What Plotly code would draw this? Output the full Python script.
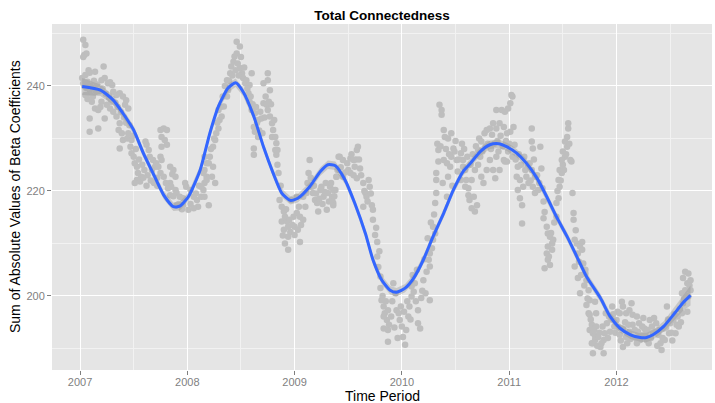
import plotly.graph_objects as go

# ---------------- data ----------------
# observed points: [decimal year, value]
obs_2007 = [[2007.03,248.8],[2007.05,247.8],[2007.04,245.9],[2007.06,246.2],[2007.03,245.5],[2007.08,243.0],[2007.05,242.1],[2007.09,242.5],[2007.14,242.7],[2007.22,243.7],[2007.03,240.5],[2007.06,239.6],[2007.09,238.6],[2007.05,238.3],[2007.12,238.0],[2007.15,238.9],[2007.20,241.1],[2007.23,241.5],[2007.26,240.5],[2007.28,240.7],[2007.30,240.2],[2007.31,238.9],[2007.20,237.0],[2007.25,236.4],[2007.28,235.7],[2007.31,235.1],[2007.14,235.7],[2007.17,235.4],[2007.09,233.8],[2007.23,233.8],[2007.17,231.9],[2007.09,231.3],[2007.34,238.3],[2007.37,238.6],[2007.40,238.0],[2007.43,237.3],[2007.42,236.4],[2007.45,235.7],[2007.34,234.2],[2007.37,232.9],[2007.36,231.6],[2007.39,231.0],[2007.40,229.7],[2007.37,228.1],[2007.45,231.0],[2007.48,229.7],[2007.47,228.4],[2007.48,227.2],[2007.50,226.5],[2007.51,225.3],[2007.53,224.6],[2007.54,223.4],[2007.53,222.1],[2007.51,221.5],[2007.56,221.8],[2007.57,222.7],[2007.61,229.4],[2007.62,228.8],[2007.64,227.8],[2007.65,226.5],[2007.68,225.9],[2007.70,224.6],[2007.71,225.3],[2007.67,224.0],[2007.75,231.6],[2007.78,231.9],[2007.81,231.6],[2007.76,230.3],[2007.79,229.7],[2007.81,228.8],[2007.76,228.4],[2007.75,226.5],[2007.76,225.9],[2007.73,224.6],[2007.75,223.4],[2007.78,222.7],[2007.72,222.5],[2007.84,224.6],[2007.87,224.0],[2007.89,222.7],[2007.86,223.2],[2007.84,221.5],[2007.85,220.8],[2007.89,220.2],[2007.90,219.6],[2007.84,219.2],[2007.93,218.9],[2007.96,218.6],[2007.98,221.5],[2007.99,220.8],[2007.90,217.3],[2007.96,217.3],
            [2007.02,241.5],[2007.04,240.0],[2007.07,240.8],[2007.10,240.0],[2007.12,239.5],[2007.13,241.0],[2007.16,240.3],[2007.18,239.0],[2007.21,239.5],[2007.24,238.5],[2007.27,237.8],[2007.29,237.0],[2007.11,237.0],[2007.07,237.5],[2007.19,236.0],[2007.33,236.8],[2007.35,236.0],[2007.38,235.0],[2007.41,234.0],[2007.43,233.0],[2007.46,232.5],[2007.44,230.0],[2007.49,230.5],[2007.52,228.0],[2007.55,226.0],[2007.58,225.0],[2007.60,224.0],[2007.63,223.0],[2007.66,222.0],[2007.69,221.5],[2007.72,221.0],[2007.80,221.5],[2007.82,220.5],[2007.87,219.0],[2007.92,217.5],[2007.95,216.5],[2007.59,222.5],[2007.62,221.0]]

obs_2008 = [[2008.01,216.4],[2008.03,220.2],[2008.06,218.9],[2008.09,218.3],[2008.10,217.0],[2008.06,216.7],[2008.13,218.9],[2008.15,220.2],[2008.16,221.5],[2008.18,222.7],[2008.16,224.0],[2008.18,225.3],[2008.16,226.5],[2008.20,225.3],[2008.24,224.6],[2008.15,223.4],[2008.18,222.1],[2008.23,222.7],[2008.26,221.5],[2008.13,220.8],[2008.16,218.9],[2008.20,217.3],[2008.21,226.5],[2008.24,228.4],[2008.26,229.7],[2008.27,231.0],[2008.29,231.9],[2008.30,233.5],[2008.32,234.2],[2008.29,235.4],[2008.34,236.1],[2008.37,238.0],[2008.38,239.2],[2008.37,241.1],[2008.40,242.4],[2008.41,243.7],[2008.43,244.6],[2008.44,245.6],[2008.46,246.2],[2008.47,244.3],[2008.49,243.4],[2008.46,248.4],[2008.49,247.5],[2008.51,242.4],[2008.52,241.5],[2008.54,240.5],[2008.55,241.1],[2008.58,240.2],[2008.60,242.4],[2008.57,238.6],[2008.58,237.0],[2008.60,235.4],[2008.63,234.8],[2008.62,232.2],[2008.63,231.3],[2008.66,233.5],[2008.68,235.1],[2008.69,233.8],[2008.66,230.3],[2008.62,228.1],[2008.62,226.9],[2008.71,240.5],[2008.75,242.4],[2008.75,241.1],[2008.73,238.0],[2008.71,236.7],[2008.74,236.4],[2008.77,239.2],[2008.75,235.4],[2008.77,234.2],[2008.79,232.9],[2008.80,231.6],[2008.79,230.3],[2008.82,230.3],[2008.83,229.1],[2008.82,227.8],[2008.83,226.9],[2008.84,227.8],[2008.85,223.4],[2008.86,218.3],[2008.88,217.0],[2008.90,216.1],[2008.91,215.1],[2008.88,214.2],[2008.93,214.2],[2008.94,213.2],[2008.90,212.6],[2008.96,212.2],[2008.94,211.3],[2008.91,210.0],[2008.94,208.8],[2008.99,215.1],[2008.97,218.3],
            [2008.03,217.5],[2008.08,219.5],[2008.11,221.0],[2008.22,228.0],[2008.25,230.0],[2008.28,233.0],[2008.31,236.0],[2008.33,238.0],[2008.35,240.0],[2008.39,241.0],[2008.42,242.0],[2008.45,243.0],[2008.48,242.0],[2008.50,245.5],[2008.53,243.5],[2008.56,239.5],[2008.59,238.0],[2008.61,236.5],[2008.64,236.0],[2008.65,233.0],[2008.67,231.5],[2008.70,231.0],[2008.72,234.0],[2008.76,237.0],[2008.78,236.5],[2008.81,233.5],[2008.84,225.0],[2008.87,221.0],[2008.92,216.5],[2008.95,214.5],[2008.98,213.5],[2008.89,211.5]]

obs_2009 = [[2009.02,215.8],[2009.05,215.1],[2009.08,214.5],[2009.00,213.2],[2009.03,212.6],[2009.05,210.3],[2009.00,211.6],[2009.02,218.9],[2009.08,218.9],[2009.11,219.6],[2009.13,223.4],[2009.14,225.9],[2009.16,220.8],[2009.17,219.6],[2009.19,218.3],[2009.21,217.7],[2009.22,216.1],[2009.24,220.2],[2009.25,220.8],[2009.27,218.9],[2009.30,216.4],[2009.31,219.6],[2009.33,220.8],[2009.35,218.9],[2009.36,217.7],[2009.38,220.2],[2009.39,222.7],[2009.41,226.5],[2009.42,226.5],[2009.45,225.9],[2009.49,225.3],[2009.52,226.2],[2009.55,225.9],[2009.58,227.8],[2009.59,228.4],[2009.56,224.6],[2009.61,224.3],[2009.52,223.4],[2009.45,222.7],[2009.39,222.7],[2009.36,220.2],[2009.35,218.3],[2009.36,217.3],[2009.55,223.0],[2009.58,222.4],[2009.64,221.5],[2009.69,222.1],[2009.70,220.8],[2009.66,219.6],[2009.67,218.9],[2009.64,217.0],[2009.72,217.3],[2009.73,216.4],[2009.73,214.5],[2009.75,211.6],[2009.77,210.3],[2009.77,207.5],[2009.80,203.7],[2009.80,201.5],[2009.81,199.2],[2009.83,198.0],[2009.84,196.7],[2009.86,195.4],[2009.83,196.1],[2009.87,197.3],[2009.90,196.1],[2009.83,193.8],[2009.87,193.5],[2009.87,191.3],[2009.92,202.4],[2009.94,200.5],[2009.95,197.3],[2009.97,196.7],[2009.98,195.4],
            [2009.04,217.0],[2009.06,213.5],[2009.10,217.0],[2009.12,221.5],[2009.15,222.5],[2009.18,221.0],[2009.20,219.5],[2009.23,218.5],[2009.26,217.5],[2009.28,219.8],[2009.29,221.5],[2009.32,218.0],[2009.34,221.5],[2009.37,219.0],[2009.40,224.0],[2009.43,224.5],[2009.47,223.5],[2009.50,224.0],[2009.53,227.0],[2009.57,226.0],[2009.60,226.0],[2009.62,223.0],[2009.65,220.0],[2009.68,218.0],[2009.71,219.5],[2009.76,213.0],[2009.78,205.5],[2009.82,200.0],[2009.85,199.0],[2009.88,194.5],[2009.91,199.0],[2009.93,194.0],[2009.96,192.0],[2009.99,198.0],[2009.79,208.5]]

obs_2010 = [[2010.00,194.2],[2010.01,192.2],[2010.03,190.7],[2010.04,193.5],[2010.06,196.1],[2010.07,198.0],[2010.09,199.9],[2010.09,201.8],[2010.11,200.8],[2010.12,202.4],[2010.15,197.3],[2010.15,194.8],[2010.17,193.8],[2010.18,199.6],[2010.22,200.5],[2010.26,199.2],[2010.20,203.0],[2010.23,204.6],[2010.26,205.6],[2010.25,206.9],[2010.26,208.1],[2010.28,209.1],[2010.29,210.7],[2010.31,211.9],[2010.29,213.2],[2010.31,217.7],[2010.32,219.6],[2010.32,222.1],[2010.32,223.4],[2010.34,225.6],[2010.34,227.8],[2010.35,236.4],[2010.37,235.4],[2010.37,234.5],[2010.39,231.6],[2010.40,230.3],[2010.43,230.0],[2010.46,231.0],[2010.39,225.9],[2010.42,225.3],[2010.45,224.6],[2010.43,222.7],[2010.42,218.9],[2010.46,226.5],[2010.48,228.1],[2010.49,227.5],[2010.51,225.9],[2010.52,223.7],[2010.55,227.2],[2010.57,224.6],[2010.60,222.1],[2010.62,220.5],[2010.57,225.9],[2010.59,224.0],[2010.55,222.1],[2010.59,220.8],[2010.62,219.2],[2010.63,218.3],[2010.65,216.7],[2010.68,216.1],[2010.70,217.3],[2010.67,218.9],[2010.65,222.1],[2010.68,224.0],[2010.71,225.0],[2010.73,226.5],[2010.71,227.8],[2010.74,229.4],[2010.77,231.0],[2010.79,231.6],[2010.82,231.9],[2010.84,230.7],[2010.74,222.7],[2010.76,221.5],[2010.79,224.0],[2010.82,225.9],[2010.85,224.0],[2010.87,222.4],[2010.88,226.5],[2010.90,227.5],[2010.91,224.0],[2010.95,225.9],[2010.96,225.6],[2010.85,232.9],[2010.88,231.9],[2010.91,232.9],[2010.95,232.2],[2010.98,231.0],[2010.88,235.4],[2010.93,235.4],[2010.96,235.1],[2010.99,235.7],[2010.99,227.5],[2010.98,225.6],
            [2010.02,197.0],[2010.05,199.0],[2010.08,195.5],[2010.10,204.0],[2010.13,199.0],[2010.14,205.0],[2010.19,201.0],[2010.21,207.0],[2010.24,211.0],[2010.27,214.0],[2010.30,215.5],[2010.33,229.0],[2010.36,228.5],[2010.38,221.5],[2010.41,228.0],[2010.44,227.0],[2010.47,221.0],[2010.50,229.5],[2010.53,226.0],[2010.56,229.0],[2010.58,228.0],[2010.61,226.5],[2010.64,225.0],[2010.66,227.0],[2010.69,228.5],[2010.72,230.0],[2010.75,227.5],[2010.78,228.5],[2010.80,229.0],[2010.83,228.0],[2010.86,229.0],[2010.89,229.5],[2010.92,230.5],[2010.94,228.5],[2010.97,229.5]]

obs_2011 = [[2011.01,236.7],[2011.02,238.3],[2011.03,238.0],[2011.01,231.3],[2011.04,232.2],[2011.05,228.8],[2011.08,224.6],[2011.07,222.7],[2011.10,222.1],[2011.08,220.2],[2011.10,218.6],[2011.12,217.3],[2011.12,213.8],[2011.13,220.8],[2011.16,222.7],[2011.18,221.5],[2011.15,224.0],[2011.21,231.9],[2011.21,229.4],[2011.22,228.1],[2011.19,225.3],[2011.21,224.0],[2011.24,222.7],[2011.22,220.8],[2011.24,219.6],[2011.27,220.2],[2011.29,228.4],[2011.30,224.3],[2011.32,218.0],[2011.32,214.8],[2011.35,213.2],[2011.36,211.9],[2011.38,211.3],[2011.40,210.0],[2011.36,209.4],[2011.35,208.1],[2011.36,206.9],[2011.33,205.3],[2011.38,205.9],[2011.40,208.8],[2011.41,210.7],[2011.44,217.7],[2011.46,218.6],[2011.44,215.1],[2011.47,220.8],[2011.46,222.1],[2011.49,223.4],[2011.47,224.0],[2011.50,225.0],[2011.49,225.9],[2011.52,226.5],[2011.50,227.5],[2011.54,228.4],[2011.52,229.4],[2011.54,230.3],[2011.55,231.9],[2011.55,232.9],[2011.57,225.9],[2011.58,225.6],[2011.59,219.6],[2011.60,215.8],[2011.60,214.5],[2011.61,210.7],[2011.63,210.0],[2011.64,208.1],[2011.66,209.4],[2011.68,208.8],[2011.61,205.6],[2011.64,203.4],[2011.66,200.5],[2011.69,206.2],[2011.71,204.3],[2011.72,203.0],[2011.74,201.1],[2011.75,199.2],[2011.72,198.3],[2011.74,196.7],[2011.77,194.5],[2011.75,193.5],[2011.78,192.9],[2011.78,191.0],[2011.80,192.4],[2011.81,196.7],[2011.68,210.3],[2011.71,205.0],[2011.75,196.4],[2011.77,191.0],[2011.80,191.6],[2011.78,189.1],[2011.83,192.2],[2011.85,190.3],[2011.88,189.1],[2011.88,191.6],[2011.89,192.9],[2011.81,194.2],[2011.80,198.9],[2011.87,194.2],[2011.91,194.8],[2011.90,196.7],[2011.93,196.1],[2011.96,198.0],[2011.94,193.2],[2011.98,194.2],
            [2011.00,229.0],[2011.03,226.5],[2011.06,226.0],[2011.09,227.0],[2011.11,225.0],[2011.14,226.5],[2011.17,224.5],[2011.20,222.0],[2011.23,226.0],[2011.26,223.0],[2011.28,221.5],[2011.31,220.5],[2011.33,216.0],[2011.37,207.5],[2011.39,212.0],[2011.42,214.0],[2011.45,220.0],[2011.48,222.0],[2011.51,224.0],[2011.53,227.0],[2011.56,229.0],[2011.62,212.5],[2011.65,206.5],[2011.67,204.0],[2011.70,202.0],[2011.73,199.5],[2011.76,195.5],[2011.79,193.5],[2011.82,190.5],[2011.84,193.0],[2011.86,191.0],[2011.92,192.0],[2011.95,195.5],[2011.97,196.5],[2011.99,193.0]]

obs_2012 = [[2012.00,195.4],[2012.01,197.0],[2012.05,198.9],[2012.06,198.0],[2012.09,196.7],[2012.12,197.3],[2012.14,198.6],[2012.15,196.4],[2012.03,192.6],[2012.06,193.8],[2012.09,192.2],[2012.12,193.2],[2012.15,194.5],[2012.19,196.1],[2012.20,193.2],[2012.24,194.2],[2012.25,195.8],[2012.27,192.9],[2012.28,191.6],[2012.30,191.0],[2012.31,195.4],[2012.33,194.2],[2012.35,195.8],[2012.36,193.2],[2012.39,192.6],[2012.41,191.0],[2012.42,189.7],[2012.44,193.8],[2012.45,191.6],[2012.47,198.0],[2012.49,192.9],[2012.50,194.8],[2012.53,195.4],[2012.55,192.9],[2012.57,196.1],[2012.58,194.2],[2012.61,196.7],[2012.62,198.6],[2012.61,200.5],[2012.64,201.1],[2012.66,202.4],[2012.62,203.4],[2012.64,204.6],[2012.67,204.3],[2012.69,203.0],[2012.67,199.9],[2012.69,201.1],[2012.22,191.6],[2012.19,191.0],[2012.06,190.3],[2012.03,196.7],
            [2012.02,194.0],[2012.04,191.5],[2012.08,195.0],[2012.10,191.0],[2012.11,194.5],[2012.13,191.8],[2012.17,193.5],[2012.18,192.0],[2012.21,194.8],[2012.23,192.5],[2012.26,193.8],[2012.29,193.5],[2012.32,192.0],[2012.34,193.0],[2012.37,194.8],[2012.38,190.5],[2012.40,193.5],[2012.43,192.0],[2012.46,194.0],[2012.48,195.5],[2012.51,193.0],[2012.52,191.5],[2012.54,196.5],[2012.56,194.5],[2012.59,197.5],[2012.60,195.0],[2012.63,199.5],[2012.65,200.0],[2012.68,202.0],[2012.66,197.0]]

# loess smooth (blue line) and its standard-error half width
smooth_t = [2007.02,2007.19,2007.31,2007.40,2007.50,2007.59,2007.68,2007.78,2007.87,2007.93,2008.01,2008.12,2008.21,2008.29,2008.38,2008.45,2008.52,2008.62,2008.71,2008.80,2008.88,2008.96,2009.03,2009.14,2009.24,2009.31,2009.38,2009.47,2009.56,2009.66,2009.73,2009.81,2009.89,2009.95,2010.03,2010.11,2010.20,2010.29,2010.39,2010.48,2010.57,2010.64,2010.73,2010.82,2010.90,2010.98,2011.07,2011.16,2011.26,2011.35,2011.44,2011.54,2011.63,2011.72,2011.85,2011.94,2012.03,2012.13,2012.22,2012.28,2012.34,2012.44,2012.53,2012.62,2012.69]
smooth_v = [239.9,239.2,237.3,234.8,231.6,227.2,223.4,219.2,217.0,217.1,218.9,224.0,231.0,236.1,239.6,240.6,238.9,234.2,228.4,223.4,219.6,218.2,218.6,220.8,223.7,225.0,224.8,222.1,217.7,211.9,206.9,203.1,201.1,200.7,201.5,203.4,206.9,211.3,215.8,220.2,223.7,225.3,227.5,228.8,229.0,228.4,227.2,225.3,222.4,218.9,215.1,211.3,207.5,203.7,199.6,196.1,193.9,192.6,192.1,192.1,192.6,194.2,196.4,198.7,200.1]
smooth_se = [1.6,1.1,0.9,0.8,0.8,0.8,0.8,0.8,0.8,0.8,0.8,0.8,0.8,0.8,0.8,0.8,0.8,0.8,0.8,0.8,0.8,0.8,0.8,0.8,0.8,0.8,0.8,0.8,0.8,0.8,0.8,0.8,0.8,0.8,0.8,0.8,0.8,0.8,0.8,0.8,0.8,0.8,0.8,0.8,0.8,0.8,0.8,0.8,0.8,0.8,0.8,0.8,0.8,0.8,0.8,0.8,0.8,0.8,0.8,0.9,0.9,1.0,1.2,1.5,1.9]

year_ticks = [2007, 2008, 2009, 2010, 2011, 2012]
year_labels = ["2007", "2008", "2009", "2010", "2011", "2012"]
value_ticks = [200, 220, 240]
value_labels = ["200", "220", "240"]

# ---------------- figure ----------------
points = obs_2007 + obs_2008 + obs_2009 + obs_2010 + obs_2011 + obs_2012
px_t = [p[0] for p in points]
px_v = [p[1] for p in points]

FONT = "Liberation Sans, Arial, Helvetica, sans-serif"
W, H = 715, 403
ML, MR, MT, MB = 52, 3, 24, 33

fig = go.Figure()
fig.add_trace(go.Scatter(x=px_t, y=px_v, mode="markers",
                         marker=dict(color="#BEBEBE", size=6.5, line=dict(width=0)),
                         showlegend=False, hoverinfo="x+y"))
upper = [v + s for v, s in zip(smooth_v, smooth_se)]
lower = [v - s for v, s in zip(smooth_v, smooth_se)]
fig.add_trace(go.Scatter(x=smooth_t + smooth_t[::-1], y=upper + lower[::-1],
                         fill="toself", fillcolor="rgba(153,153,153,0.4)",
                         line=dict(width=0), mode="lines", showlegend=False, hoverinfo="skip"))
fig.add_trace(go.Scatter(x=smooth_t, y=smooth_v, mode="lines",
                         line=dict(color="#3366FF", width=3, shape="spline", smoothing=0.6),
                         showlegend=False))

axis_common = dict(showline=False, zeroline=False, ticks="outside", ticklen=4,
                   tickwidth=1, tickcolor="#7F7F7F", gridcolor="#FFFFFF", gridwidth=1.2,
                   automargin=False,
                   tickfont=dict(family=FONT, size=11, color="#7F7F7F"))

fig.update_layout(
    width=W, height=H,
    margin=dict(l=ML, r=MR, t=MT, b=MB),
    paper_bgcolor="#FFFFFF", plot_bgcolor="#E5E5E5",
    title=dict(text="<b>Total Connectedness</b>", x=0.5, xref="paper", xanchor="center",
               y=1 - 15 / H, yref="container", yanchor="middle",
               font=dict(family=FONT, size=13.5, color="#000000")),
    xaxis=dict(range=[2006.739, 2012.89], tickvals=year_ticks, ticktext=year_labels,
               ticklabelstandoff=-2,
               minor=dict(dtick=0.5, tick0=2006.5, showgrid=True, gridcolor="#F2F2F2",
                          gridwidth=0.6, ticks=""),
               **axis_common),
    yaxis=dict(range=[185.9, 251.8], tickvals=value_ticks, ticktext=value_labels,
               minor=dict(dtick=10, tick0=190, showgrid=True, gridcolor="#F2F2F2",
                          gridwidth=0.6, ticks=""),
               **axis_common),
    annotations=[
        dict(text="Time Period", x=0.5, xref="paper",
             y=-(396 - (H - MB)) / (H - MT - MB), yref="paper",
             yanchor="middle", xanchor="center", showarrow=False,
             font=dict(family=FONT, size=14, color="#000000")),
        dict(text="Sum of Absolute Values of Beta Coefficients",
             x=(15 - ML) / (W - ML - MR), xref="paper", y=0.5,
             yref="paper", textangle=-90, showarrow=False, xanchor="center", yanchor="middle",
             font=dict(family=FONT, size=14, color="#000000")),
    ],
)

# remove the default page margin so the figure sits at the window's top-left corner
fig.write_html("out.html", config={"displayModeBar": False},
               post_script="document.body.style.margin='0';document.body.style.overflow='hidden';")
